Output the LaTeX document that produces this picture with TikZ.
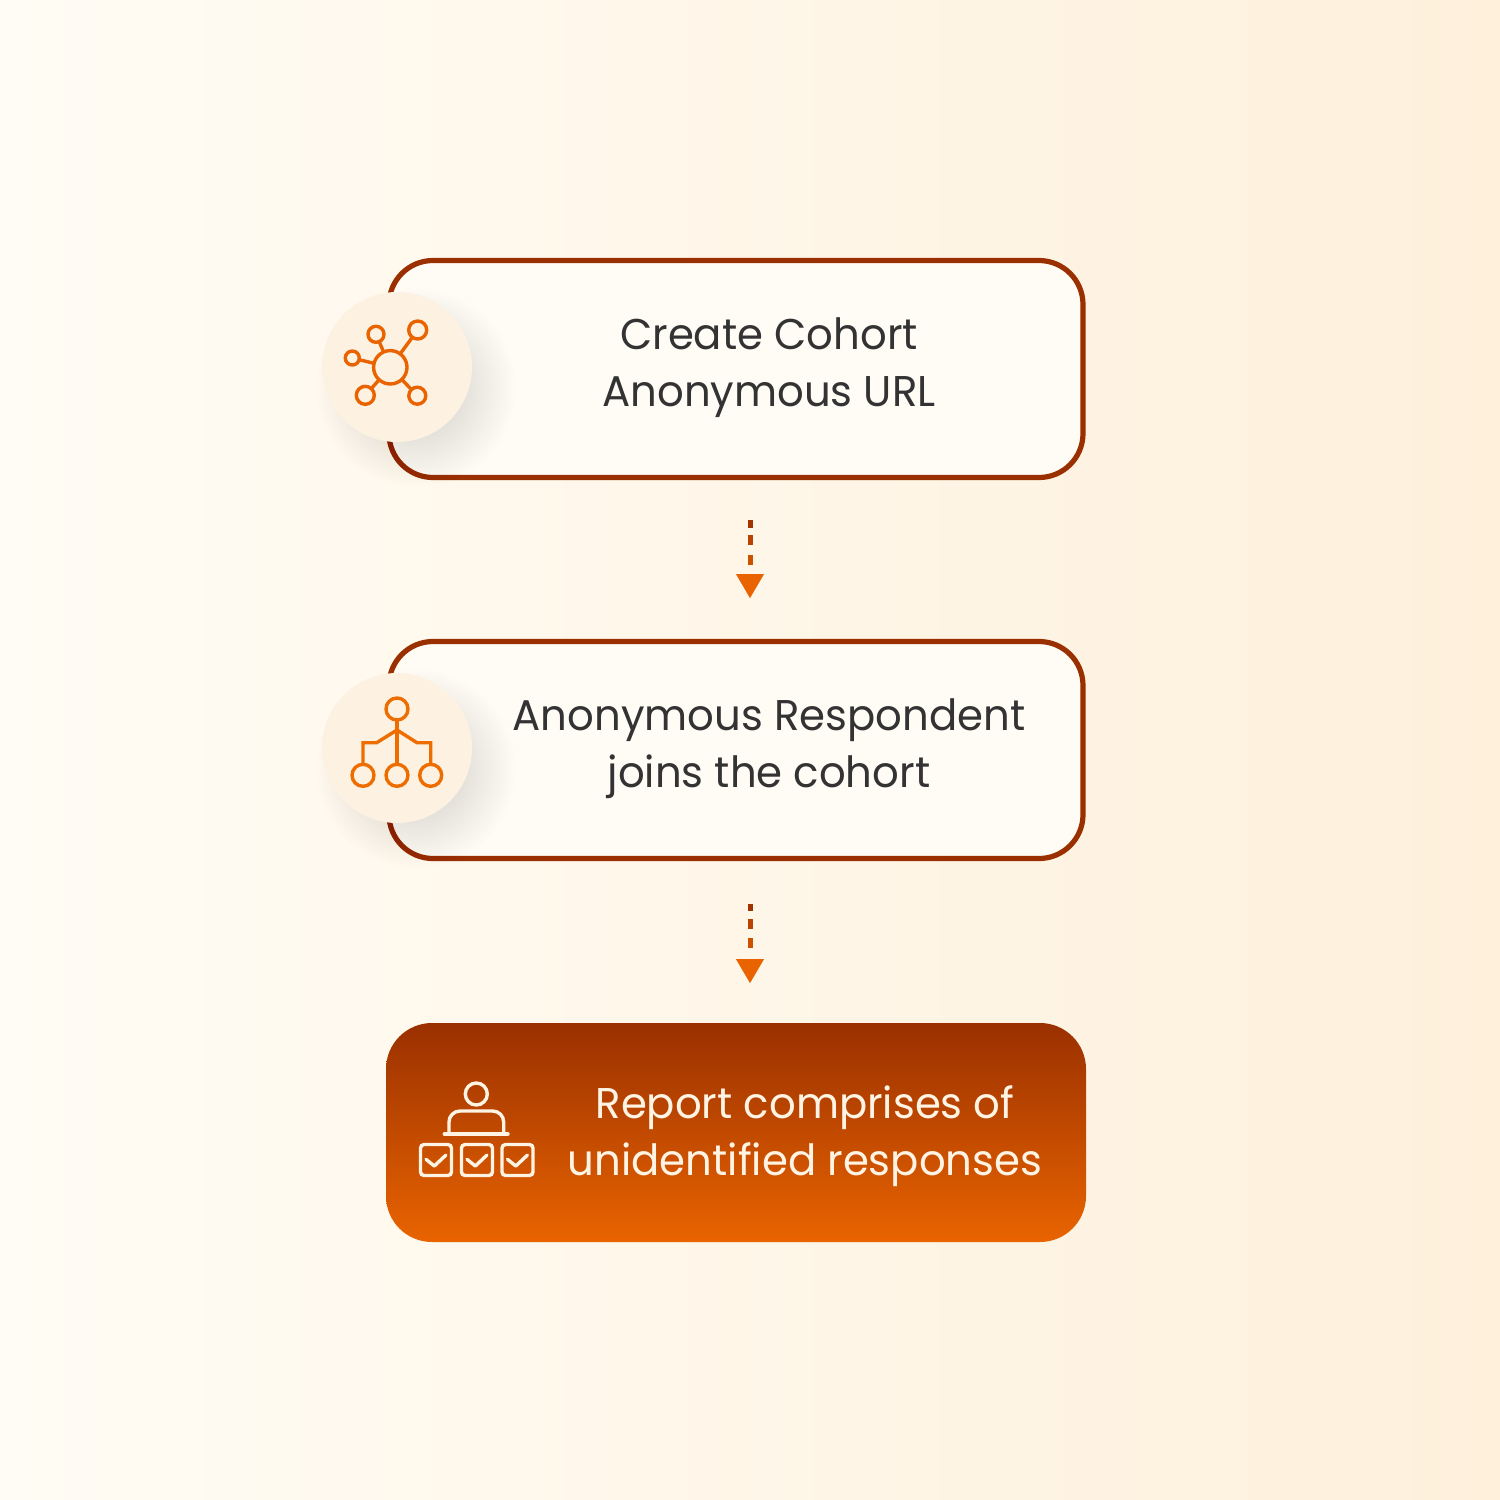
\documentclass[tikz,border=0pt]{standalone}
\usepackage{fontspec}
\setmainfont[FakeStretch=0.972]{Poppins}
\usetikzlibrary{arrows.meta,calc,positioning}
\definecolor{bgA}{HTML}{FFFCF5}
\definecolor{bgB}{HTML}{FEF6E9}
\definecolor{bgC}{HTML}{FEF0DB}
\definecolor{rust}{HTML}{9A3000}
\definecolor{flame}{HTML}{E96400}
\definecolor{iconO}{HTML}{EE6D00}
\definecolor{cream}{HTML}{FFF3E3}
\definecolor{boxfill}{HTML}{FFFCF6}
\definecolor{disc}{HTML}{FDF2E2}
\definecolor{ink}{HTML}{333333}
\definecolor{dashA}{HTML}{A03500}
\definecolor{dashB}{HTML}{B84400}
\definecolor{dashC}{HTML}{CC5200}
\tikzset{
  x=0.5pt,y=-0.5pt,
  flowbox/.style={draw=rust,line width=2.6pt,fill=boxfill,rounded corners=22pt,minimum width=347pt,minimum height=108.5pt,outer sep=0pt,inner sep=0pt},
  endbox/.style={rounded corners=23pt,minimum width=350pt,minimum height=109.5pt,outer sep=0pt,inner sep=0pt,top color=rust,bottom color=flame},
  label/.style={text=ink,font=\fontsize{21.5}{28.5}\selectfont,align=center,inner sep=0pt},
  endlabel/.style={label,text=cream},
  discnode/.style={circle,fill=disc,minimum size=75pt,inner sep=0pt,outer sep=0pt},
  ring/.style={circle,draw=#1,line width=1.7pt,inner sep=0pt,outer sep=0pt},
  wire/.style={draw=#1,line width=1.7pt,line join=miter},
  dashbit/.style={line width=2.5pt,draw=#1},
  headbit/.style={draw=flame,line width=0.1pt,-{Triangle[length=12pt,width=14pt,fill=flame,color=flame]}},
  checkbox/.style={draw=cream,line width=1.7pt,rounded corners=1.8pt,minimum size=15.5pt,inner sep=0pt,outer sep=0pt},
  tick/.style={draw=cream,line width=1.7pt,line cap=round,line join=round},
}
\begin{document}
\begin{tikzpicture}
\useasboundingbox (0,0) rectangle (1500,1500);
% background
\shade[shading=axis,shading angle=100,left color=bgA,middle color=bgB,right color=bgC] (0,0) rectangle (1500,1500);

% boxes
\node[flowbox] (a) at (736,369) {};
\node[flowbox] (b) at (736,750) {};
\node[endbox] (c) at (736,1132.5) {};

% texts
\node[label] (ta) at (769,367.5) {Create Cohort\\Anonymous URL};
\node[label] (tb) at (769,748.5) {Anonymous Respondent\\joins the cohort};
\node[endlabel] (tc) at (805,1136.5) {Report comprises of\\unidentified responses};

% shadows
\foreach \cy in {388,769} {
  \foreach \r in {50,52,...,100} {
    \fill[black,opacity=0.0045] (416,\cy) circle[radius=\r*0.5pt];
  }
}
% discs
\node[discnode] (da) at (397,367) {};
\node[discnode] (db) at (397,748) {};

% icon 1
\node[ring=flame,minimum size=16.7pt] (h) at (390.3,367.3) {};
\node[ring=flame,minimum size=8pt] (h1) at (376,334.3) {};
\node[ring=flame,minimum size=9pt] (h2) at (417.7,330) {};
\node[ring=flame,minimum size=7pt] (h3) at (352.3,358) {};
\node[ring=flame,minimum size=9pt] (h4) at (365.3,395.3) {};
\node[ring=flame,minimum size=8.5pt] (h5) at (417.3,395.7) {};
\foreach \n in {h1,h2,h3,h4,h5} \draw[wire=flame] (h) -- (\n);

% icon 2
\node[ring=iconO,minimum size=11pt] (t) at (397,709) {};
\node[ring=iconO,minimum size=11pt] (l) at (363,775.3) {};
\node[ring=iconO,minimum size=11pt] (m) at (397,775.3) {};
\node[ring=iconO,minimum size=11pt] (r) at (430.7,775.3) {};
\coordinate (fork) at (397,730);
\draw[wire=iconO] (t) -- (m);
\draw[wire=iconO] (fork) -- (376.7,742.7) -- (l.north |- 0,742.7) -- (l);
\draw[wire=iconO] (fork) -- (417,742.7) -- (r.north |- 0,742.7) -- (r);

% icon 3
\node[ring=cream,minimum size=11pt] (p) at (476.3,1094) {};
\draw[wire=cream,line cap=round] (444.3,1134) -- (508,1134);
\draw[wire=cream,line join=round] (449,1134) -- (449,1122) arc[start angle=180,end angle=90,radius=5.5pt] -- (492.7,1111) arc[start angle=90,end angle=0,radius=5.5pt] -- (503.7,1134);
\foreach \n/\x in {ca/436,cb/477,cc/517.5} {
  \node[checkbox] (\n) at (\x,1160) {};
  \draw[tick] ($(\n)+(-10,-0.7)$) -- ($(\n)+(-1.7,6)$) -- ($(\n)+(10,-5)$);
}

% connectors
\coordinate (a1) at ($(a.south)+(14,0)$);
\coordinate (b1) at ($(b.north)+(14,0)$);
\coordinate (b2) at ($(b.south)+(14,0)$);
\coordinate (c2) at ($(c.north)+(14,0)$);
\draw[dashbit=dashA,shorten <=21.25pt,shorten >=56.75pt] (a1) -- (b1);
\draw[dashbit=dashB,shorten <=28.75pt,shorten >=48.25pt] (a1) -- (b1);
\draw[dashbit=dashC,shorten <=38.75pt,shorten >=38.25pt] (a1) -- (b1);
\draw[headbit,shorten <=48.2pt,shorten >=21.75pt] (a1) -- (b1);
\draw[dashbit=dashA,shorten <=22.75pt,shorten >=56pt] (b2) -- (c2);
\draw[dashbit=dashB,shorten <=30.25pt,shorten >=47pt] (b2) -- (c2);
\draw[dashbit=dashC,shorten <=39.75pt,shorten >=37.5pt] (b2) -- (c2);
\draw[headbit,shorten <=50.2pt,shorten >=20pt] (b2) -- (c2);
\end{tikzpicture}
\end{document}
